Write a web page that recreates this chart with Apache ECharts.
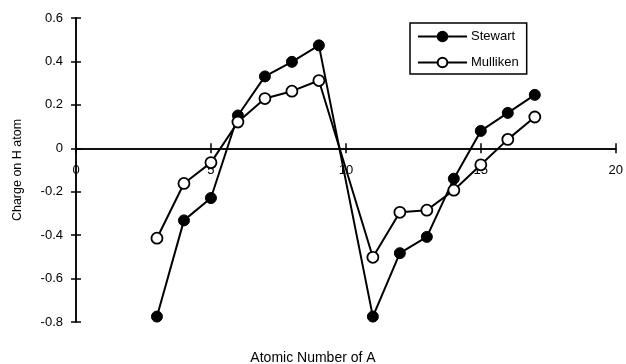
<!DOCTYPE html>
<html>
<head>
<meta charset="utf-8">
<script src="https://cdn.jsdelivr.net/npm/echarts@6/dist/echarts.min.js"></script>
<style>html,body{margin:0;padding:0;background:#fff}#c{width:626px;height:364px}</style>
</head>
<body>
<div id="c"></div>
<script>
var atomicNumbers = [3, 4, 5, 6, 7, 8, 9, 11, 12, 13, 14, 15, 16, 17];
var stewart  = [-0.775, -0.332, -0.229, 0.151, 0.331, 0.398, 0.474, -0.775, -0.483, -0.408, -0.140, 0.080, 0.163, 0.246];
var mulliken = [-0.414, -0.162, -0.066, 0.121, 0.229, 0.263, 0.312, -0.502, -0.295, -0.285, -0.193, -0.076, 0.041, 0.144];
var seriesNames = ['Stewart', 'Mulliken'];
var xTitle = 'Atomic Number of A';
var yTitle = 'Charge on H atom';
var yMin = -0.8, yMax = 0.6;

function pairs(vals) { return atomicNumbers.map(function (x, i) { return [x, vals[i]]; }); }

var font = 'Liberation Sans, Arial, sans-serif';
var gridTop = 18, gridBottom = 42, H = 364;
var gridH = H - gridTop - gridBottom;
var zeroOffset = -gridH * (0 - yMin) / (yMax - yMin);

var chart = echarts.init(document.getElementById('c'), null, { renderer: 'canvas' });
var axisLine = { show: true, onZero: false, lineStyle: { color: '#000', width: 1.5 } };
chart.setOption({
  animation: false,
  backgroundColor: '#fff',
  title: {
    text: xTitle, left: 'center', top: 346,
    textStyle: { fontFamily: font, fontSize: 14, fontWeight: 'normal', color: '#000' }
  },
  grid: { left: 76, right: 10, top: gridTop, bottom: gridBottom },
  legend: {
    data: seriesNames, orient: 'vertical', left: 410, top: 23,
    padding: [7, 8, 5, 7], itemGap: 13, itemWidth: 49, itemHeight: 12,
    borderColor: '#000', borderWidth: 1.5, backgroundColor: '#fff',
    textStyle: { fontFamily: font, fontSize: 13, color: '#000', padding: [0, 0, 0, -1] }
  },
  xAxis: [{
    type: 'value', min: 0, max: 20, interval: 5, position: 'bottom', offset: zeroOffset,
    axisLine: axisLine,
    axisTick: { show: true, length: 5, lineStyle: { color: '#000', width: 1.5 } },
    axisLabel: { fontFamily: font, fontSize: 13, color: '#000', margin: 16 },
    splitLine: { show: false }
  }, {
    type: 'value', min: 0, max: 20, interval: 5, position: 'bottom', offset: zeroOffset,
    axisLine: axisLine,
    axisTick: { show: true, inside: true, length: 5, lineStyle: { color: '#000', width: 1.5 } },
    axisLabel: { show: false }, splitLine: { show: false }
  }],
  yAxis: [{
    type: 'value', min: yMin, max: yMax, interval: 0.2, position: 'left',
    name: yTitle, nameLocation: 'middle', nameGap: 52, nameRotate: 90,
    nameTextStyle: { fontFamily: font, fontSize: 12.5, color: '#000' },
    axisLine: axisLine,
    axisTick: { show: true, length: 5, lineStyle: { color: '#000', width: 1.5 } },
    axisLabel: { fontFamily: font, fontSize: 13, color: '#000', margin: 13,
      formatter: function (v) { return String(Math.round(v * 10) / 10); } },
    splitLine: { show: false }
  }, {
    type: 'value', min: yMin, max: yMax, interval: 0.2, position: 'left', offset: 0,
    axisLine: axisLine,
    axisTick: { show: true, inside: true, length: 5, lineStyle: { color: '#000', width: 1.5 } },
    axisLabel: { show: false }, splitLine: { show: false }
  }],
  series: [{
    name: seriesNames[0], type: 'line', data: pairs(stewart),
    symbol: 'circle', symbolSize: 11,
    lineStyle: { color: '#000', width: 2 },
    itemStyle: { color: '#000', borderColor: '#000', borderWidth: 1 },
    z: 3
  }, {
    name: seriesNames[1], type: 'line', data: pairs(mulliken),
    symbol: 'circle', symbolSize: 11,
    lineStyle: { color: '#000', width: 2 },
    itemStyle: { color: '#fff', borderColor: '#000', borderWidth: 1.8 },
    z: 4
  }]
});
</script>
</body>
</html>
